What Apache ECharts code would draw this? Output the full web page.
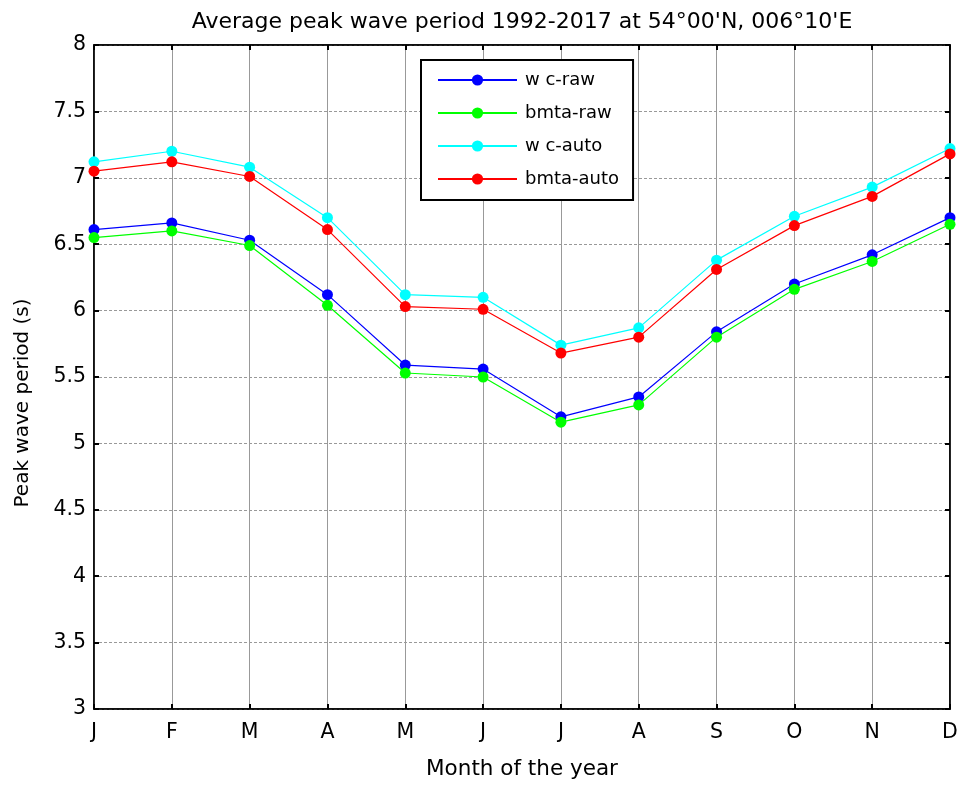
<!DOCTYPE html>
<html>
<head>
<meta charset="utf-8">
<script src="https://cdn.jsdelivr.net/npm/echarts@6/dist/echarts.min.js"></script>
<style>html,body{margin:0;padding:0;background:#fff}#c{width:966px;height:785px}</style>
</head>
<body>
<div id="c"></div>
<script>
const months = ['J','F','M','A','M','J','J','A','S','O','N','D'];
const wcRaw    = [6.61, 6.66, 6.53, 6.12, 5.59, 5.56, 5.20, 5.35, 5.84, 6.20, 6.42, 6.70];
const bmtaRaw  = [6.55, 6.60, 6.49, 6.04, 5.53, 5.50, 5.16, 5.29, 5.80, 6.16, 6.37, 6.65];
const wcAuto   = [7.12, 7.20, 7.08, 6.70, 6.12, 6.10, 5.74, 5.87, 6.38, 6.71, 6.93, 7.22];
const bmtaAuto = [7.05, 7.12, 7.01, 6.61, 6.03, 6.01, 5.68, 5.80, 6.31, 6.64, 6.86, 7.18];
const seriesNames = ['w c-raw','bmta-raw','w c-auto','bmta-auto'];
const seriesColors = ['#0000ff','#00ff00','#00ffff','#ff0000'];
const seriesData = [wcRaw, bmtaRaw, wcAuto, bmtaAuto];

const FONT = '"DejaVu Sans", "Liberation Sans", Arial, sans-serif';
const chart = echarts.init(document.getElementById('c'));
const tickStyle = {show:true, inside:true, length:5, lineStyle:{color:'#000', width:2}};
chart.setOption({
  animation:false,
  title:{text:'Average peak wave period 1992-2017 at 54°00\'N, 006°10\'E', left:517, textAlign:'center', top:6,
    textStyle:{fontFamily:FONT, fontSize:22, fontWeight:'normal', color:'#000'}},
  grid:{left:94, right:16, top:45, bottom:73, show:true, borderColor:'#000', borderWidth:1.5, backgroundColor:'#fff'},
  legend:{
    data: seriesNames, orient:'vertical', left:421, top:60,
    itemWidth:79, itemHeight:14, itemGap:15,
    borderColor:'#000', borderWidth:2, padding:[11,14,12,16],
    backgroundColor:'#fff',
    textStyle:{fontFamily:FONT, fontSize:18, color:'#000', padding:[0,0,0,3]}
  },
  xAxis:[{
    type:'category', data:months, boundaryGap:false,
    axisLine:{show:true, lineStyle:{color:'#000', width:1.5}},
    axisTick:tickStyle,
    axisLabel:{fontFamily:FONT, fontSize:20.5, color:'#000', margin:13},
    splitLine:{show:true, lineStyle:{color:'#999', width:1}},
    name:'Month of the year', nameLocation:'middle', nameGap:49,
    nameTextStyle:{fontFamily:FONT, fontSize:21.5, color:'#000'}
  },{
    type:'category', data:months, boundaryGap:false, position:'top',
    axisLine:{show:true, lineStyle:{color:'#000', width:1.5}},
    axisTick:tickStyle, axisLabel:{show:false}, splitLine:{show:false}
  }],
  yAxis:[{
    type:'value', min:3, max:8, interval:0.5,
    axisLine:{show:true, lineStyle:{color:'#000', width:1.5}},
    axisTick:tickStyle,
    axisLabel:{fontFamily:FONT, fontSize:20.5, color:'#000', margin:8,
      formatter:v=>String(Math.round(v*10)/10)},
    splitLine:{show:true, lineStyle:{color:'#999', width:1, type:[3,2]}},
    name:'Peak wave period (s)', nameLocation:'middle', nameGap:61,
    nameTextStyle:{fontFamily:FONT, fontSize:20, color:'#000', padding:[0,52,0,0]}
  },{
    type:'value', min:3, max:8, interval:0.5, position:'right',
    axisLine:{show:true, lineStyle:{color:'#000', width:1.5}},
    axisTick:tickStyle, axisLabel:{show:false}, splitLine:{show:false}
  }],
  series: seriesNames.map((n,i)=>({
    name:n, type:'line', data:seriesData[i], xAxisIndex:0, yAxisIndex:0,
    symbol:'circle', symbolSize:11, showSymbol:true,
    itemStyle:{color:seriesColors[i]},
    lineStyle:{color:seriesColors[i], width:1.2}
  }))
});
</script>
</body>
</html>
